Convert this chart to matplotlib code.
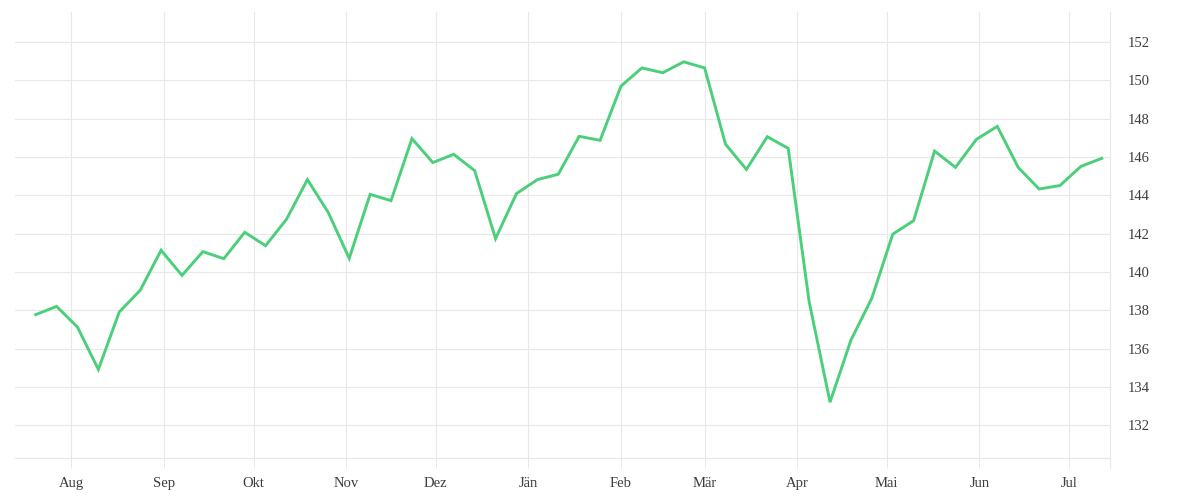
import pandas as pd
import matplotlib.pyplot as plt
import matplotlib.dates as mdates

# weekly values
values = [137.77, 138.2, 137.12, 134.91, 137.91, 139.04, 141.13, 139.82, 141.06, 140.69,
          142.07, 141.37, 142.75, 144.82, 143.1, 140.71, 144.05, 143.72, 146.96, 145.71,
          146.14, 145.29, 141.74, 144.09, 144.82, 145.1, 147.08, 146.87, 149.7, 150.65,
          150.4, 150.97, 150.65, 146.67, 145.35, 147.06, 146.45, 138.45, 133.2, 136.44,
          138.63, 141.97, 142.68, 146.31, 145.46, 146.92, 147.6, 145.46, 144.33, 144.51,
          145.51, 145.93]
start = "2022-07-20"
dates = pd.date_range(start, periods=len(values), freq="7D")

month_starts = pd.date_range("2022-08-01", "2023-07-01", freq="MS")
month_labels = ["Aug", "Sep", "Okt", "Nov", "Dez", "Jän", "Feb", "Mär", "Apr", "Mai", "Jun", "Jul"]
yticks = [132, 134, 136, 138, 140, 142, 144, 146, 148, 150, 152]

grid_col = "#e8e8e8"
text_col = "#3d3d3d"

plt.rcParams['font.family'] = ['Liberation Serif', 'DejaVu Serif']

fig = plt.figure(figsize=(12, 5), dpi=100)
ax = fig.add_axes([0.0125, 0.0834, 0.9125, 0.8926])

ax.plot(dates, values, color="#4ccf7a", linewidth=2.1, solid_joinstyle="miter", zorder=3)

ax.set_xlim(pd.Timestamp("2022-07-13 02:00"), pd.Timestamp("2023-07-14 18:00"))
ax.set_ylim(130.27, 153.57)

ax.set_xticks(month_starts)
ax.set_xticklabels(month_labels)
ax.set_yticks(yticks)
ax.set_yticklabels([str(v) for v in yticks])

ax.yaxis.tick_right()
ax.tick_params(axis="y", length=0, pad=12.5, labelsize=10.5, colors=text_col)
ax.tick_params(axis="x", length=7.2, width=0.72, color=grid_col, pad=6.5, labelsize=10.5, labelcolor=text_col)

ax.grid(True, color=grid_col, linewidth=0.8)
ax.set_axisbelow(True)

for side in ["left", "top"]:
    ax.spines[side].set_visible(False)
ax.spines["bottom"].set_color(grid_col)
ax.spines["bottom"].set_linewidth(0.8)
ax.spines["right"].set_visible(False)
# right border line running down past the bottom edge like the ticks
ax.plot([1, 1], [-0.022, 1], transform=ax.transAxes, color=grid_col, linewidth=0.8, clip_on=False)

fig.savefig("out.png", dpi=100)
